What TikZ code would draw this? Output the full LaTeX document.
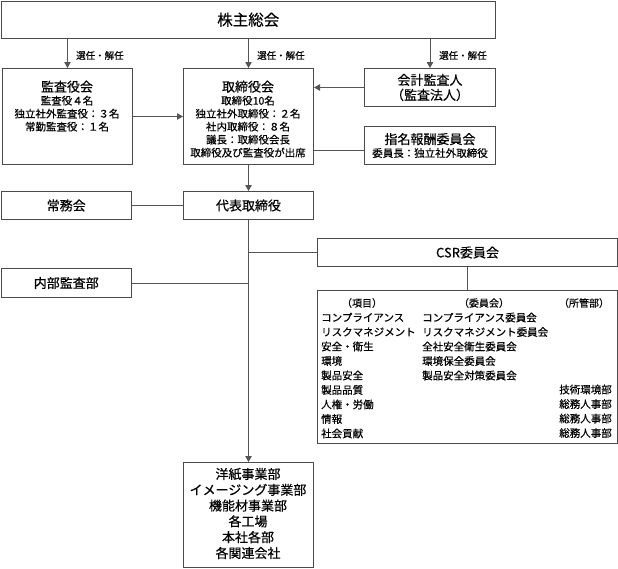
\documentclass[tikz,border=0pt]{standalone}
\usepackage{fontspec}
\setmainfont{Noto Sans CJK JP}[FakeBold=0.5,AutoFakeBold=0.5]
\usetikzlibrary{arrows.meta}
\definecolor{boxc}{RGB}{75,75,75}
\definecolor{linec}{RGB}{85,85,85}
\newcommand{\fsz}[2]{\fontsize{#1}{#2}\selectfont\bfseries}
\begin{document}
\begin{tikzpicture}[x=1pt,y=-1pt,
  box/.style={draw=boxc, line width=1pt, inner sep=0pt, anchor=north west, text=black},
  conn/.style={draw=linec, line width=0.9pt},
  arr/.style={conn, -{Triangle[length=6pt,width=6.5pt]}},
  txt/.style={align=center, inner sep=0pt, text=black},
  lbl/.style={inner sep=0pt, anchor=west, font=\fsz{9.5}{11}},
  big/.style={font=\fsz{13}{15}}
]
\path[use as bounding box] (0,0) rectangle (618,568);

% boxes
\node (gm) [box, minimum width=494.5pt, minimum height=37.5pt, font=\fsz{15.5}{18}] at (0.5,0.5) {株主総会};
\node (kansa) [box, minimum width=130pt, minimum height=96pt] at (2,68) {};
\node (tori) [box, minimum width=130pt, minimum height=96pt] at (183,68) {};
\node (kaikei) [box, minimum width=131pt, minimum height=38pt] at (364,68) {};
\node (shimei) [box, minimum width=131pt, minimum height=38pt] at (364,126) {};
\node (jomu) [box, big, minimum width=130.5pt, minimum height=28pt] at (0.5,191) {常務会};
\node (daihyo) [box, big, minimum width=130pt, minimum height=28pt] at (183,191) {代表取締役};
\node (csr) [box, big, minimum width=300pt, minimum height=28pt] at (317,238) {CSR委員会};
\node (naibu) [box, big, minimum width=130.5pt, minimum height=29pt] at (0.5,268) {内部監査部};
\node (list) [box, minimum width=300pt, minimum height=153pt] at (317,290) {};
\node (bus) [box, minimum width=130pt, minimum height=105pt] at (183,462) {};

% box texts
\node (kansaT) [txt, anchor=north, font=\fsz{10.5}{13}] at (67,80.5)
  {{\fsz{13}{13}監査役会}\\ 監査役４名\\ 独立社外監査役：３名\\ 常勤監査役：１名};
\node (toriT) [txt, anchor=north, font=\fsz{10.5}{13}] at (248,80.5)
  {{\fsz{13}{13}取締役会}\\ 取締役10名\\ 独立社外取締役：２名\\ 社内取締役：８名\\ 議長：取締役会長\\ 取締役及び監査役が出席};
\node (kaikeiT) [txt, font=\fsz{13}{15}] at (kaikei.center) {会計監査人\\（監査法人）};
\node (shimeiT) [txt, font=\fsz{10.5}{13}] at (shimei.center) {{\fsz{13}{13}指名報酬委員会}\\ 委員長：独立社外取締役};
\node (busT) [txt, font=\fsz{13}{15.8}] at (248,513.5)
  {洋紙事業部\\ イメージング事業部\\ 機能材事業部\\ 各工場\\ 本社各部\\ 各関連会社};

% list contents
\node (h1) [txt, font=\fsz{10}{12}] at (362,303) {（項目）};
\node (h2) [txt, font=\fsz{10}{12}] at (484,303) {（委員会）};
\node (h3) [txt, font=\fsz{10}{12}] at (584,303) {（所管部）};
\node (c1) [inner sep=0pt, align=left, anchor=north west, font=\fsz{10.5}{14.5}] at (321,312.5)
  {コンプライアンス\\ リスクマネジメント\\ 安全・衛生\\ 環境\\ 製品安全\\ 製品品質\\ 人権・労働\\ 情報\\ 社会貢献};
\node (c2) [inner sep=0pt, align=left, anchor=north west, font=\fsz{10.5}{14.5}] at (422,312.5)
  {コンプライアンス委員会\\ リスクマネジメント委員会\\ 全社安全衛生委員会\\ 環境保全委員会\\ 製品安全対策委員会};
\node (c3) [inner sep=0pt, align=right, anchor=north east, font=\fsz{10.5}{14.5}] at (612,384.5)
  {技術環境部\\ 総務人事部\\ 総務人事部\\ 総務人事部};

% connectors
\draw[arr] (kansa.north |- gm.south) -- (kansa.north);
\draw[arr] (tori.north |- gm.south) -- (tori.north);
\draw[arr] (kaikei.north |- gm.south) -- (kaikei.north);
\node (l1) [lbl] at (76,55.5) {選任・解任};
\node (l2) [lbl] at (257,55.5) {選任・解任};
\node (l3) [lbl] at (439,55.5) {選任・解任};
\draw[arr] (kansa.east) -- (tori.west);
\draw[arr] (kaikei.west) -- (kaikei.west -| tori.east);
\draw[conn] ([yshift=-5pt]shimei.west) -- ([yshift=-5pt]shimei.west -| tori.east);
\draw[arr] (tori.south) -- (daihyo.north);
\draw[conn] (jomu.east) -- (daihyo.west);
\draw[arr] (daihyo.south) -- (bus.north);
\draw[conn] (csr.west -| daihyo.south) -- (csr.west);
\draw[conn] (naibu.east) -- (naibu.east -| daihyo.south);
\draw[conn] (csr.south) -- (list.north);
\end{tikzpicture}
\end{document}
